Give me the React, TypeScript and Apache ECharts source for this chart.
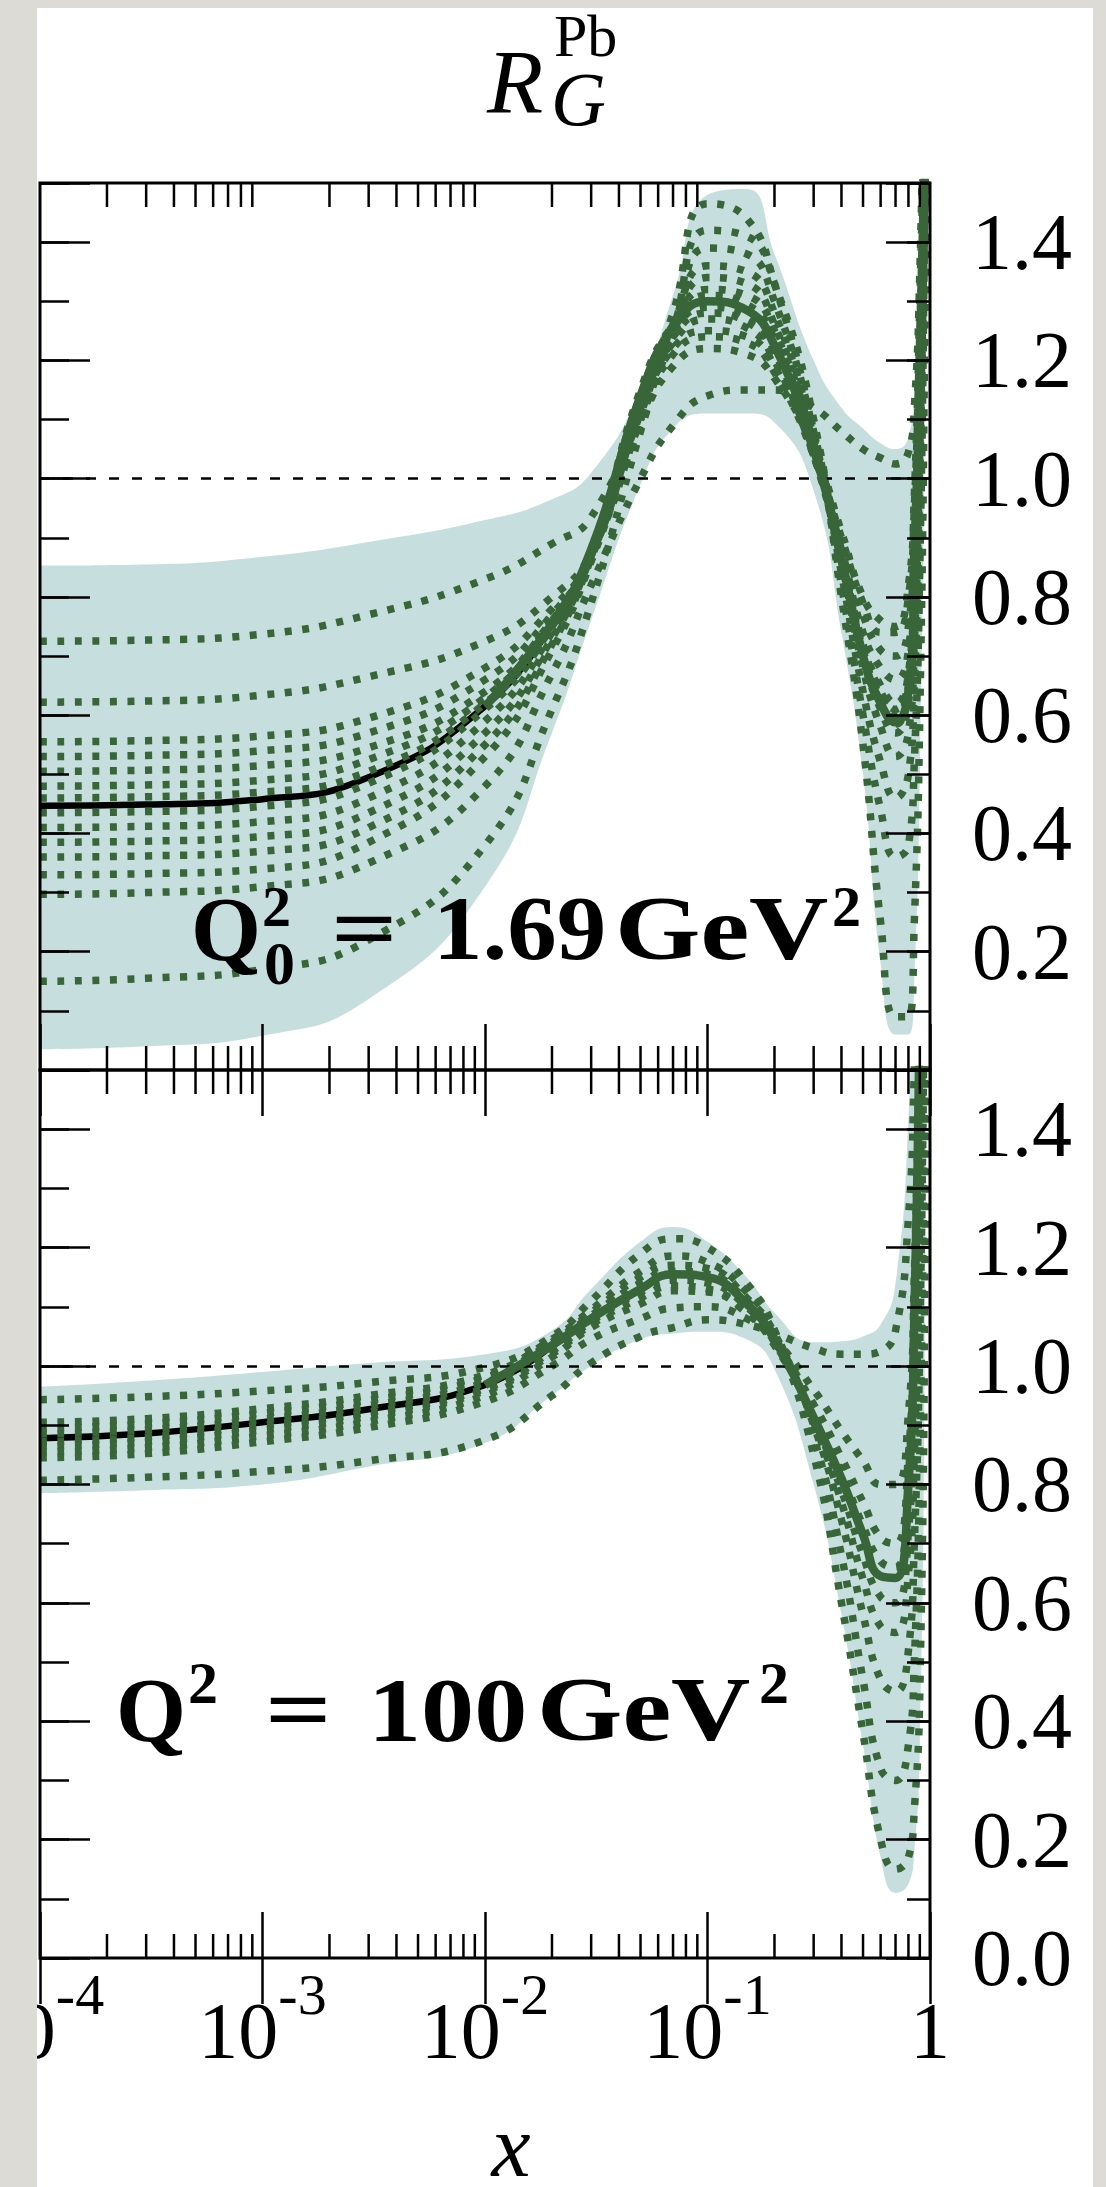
import React, { useEffect, useRef } from 'react';
import * as echarts from 'echarts';

// ---------------- data ----------------
const xGrid = [0.0001, 0.0003, 0.001, 0.003, 0.01, 0.02, 0.03, 0.05, 0.07, 0.1, 0.15, 0.2, 0.3, 0.4, 0.5, 0.6, 0.7, 0.8, 0.85, 0.9, 0.95, 1.0];

// Upper panel: Q0^2 = 1.69 GeV^2
const topCentral = [0.447, 0.449, 0.458, 0.495, 0.615, 0.755, 0.88, 1.14, 1.255, 1.30, 1.285, 1.225, 1.05, 0.865, 0.70, 0.62, 0.588, 0.64, 0.80, 1.12, 1.55, 2.3];
const topBandUpper = [0.853, 0.855, 0.868, 0.893, 0.93, 0.965, 1.01, 1.15, 1.31, 1.48, 1.49, 1.38, 1.20, 1.12, 1.085, 1.06, 1.05, 1.07, 1.15, 1.45, 2.0, 2.5];
const topBandLower = [0.035, 0.04, 0.058, 0.12, 0.31, 0.57, 0.76, 0.99, 1.085, 1.11, 1.11, 1.095, 0.98, 0.74, 0.50, 0.18, 0.06, 0.06, 0.15, 0.5, 1.2, 2.5];
const topErr01 = [0.725, 0.727, 0.737, 0.77, 0.83, 0.89, 0.935, 1.12, 1.28, 1.465, 1.44, 1.33, 1.08, 0.82, 0.60, 0.44, 0.36, 0.38, 0.52, 0.85, 1.5, 2.3];
const topErr02 = [0.622, 0.624, 0.634, 0.665, 0.725, 0.80, 0.875, 1.10, 1.25, 1.39, 1.38, 1.30, 1.08, 0.84, 0.64, 0.52, 0.46, 0.50, 0.65, 1.0, 1.55, 2.3];
const topErr03 = [0.555, 0.557, 0.565, 0.595, 0.68, 0.78, 0.87, 1.12, 1.26, 1.36, 1.35, 1.28, 1.07, 0.86, 0.68, 0.58, 0.53, 0.57, 0.72, 1.05, 1.55, 2.3];
const topErr04 = [0.53, 0.532, 0.54, 0.57, 0.66, 0.77, 0.87, 1.13, 1.26, 1.34, 1.33, 1.26, 1.06, 0.87, 0.70, 0.61, 0.57, 0.62, 0.78, 1.1, 1.55, 2.3];
const topErr05 = [0.505, 0.507, 0.515, 0.545, 0.64, 0.76, 0.87, 1.14, 1.26, 1.32, 1.31, 1.25, 1.06, 0.87, 0.72, 0.64, 0.61, 0.66, 0.82, 1.15, 1.6, 2.3];
const topErr06 = [0.48, 0.482, 0.49, 0.525, 0.63, 0.76, 0.88, 1.15, 1.26, 1.31, 1.295, 1.235, 1.05, 0.87, 0.71, 0.63, 0.60, 0.65, 0.81, 1.13, 1.55, 2.3];
const topErr07 = [0.46, 0.462, 0.47, 0.505, 0.62, 0.755, 0.88, 1.14, 1.25, 1.29, 1.275, 1.215, 1.04, 0.86, 0.70, 0.62, 0.585, 0.64, 0.80, 1.12, 1.55, 2.3];
const topErr08 = [0.435, 0.437, 0.446, 0.485, 0.61, 0.75, 0.88, 1.13, 1.24, 1.28, 1.265, 1.21, 1.04, 0.87, 0.72, 0.65, 0.62, 0.67, 0.83, 1.15, 1.6, 2.3];
const topErr09 = [0.41, 0.412, 0.42, 0.46, 0.59, 0.74, 0.875, 1.12, 1.23, 1.27, 1.255, 1.20, 1.04, 0.88, 0.74, 0.68, 0.66, 0.71, 0.87, 1.2, 1.6, 2.3];
const topErr10 = [0.385, 0.387, 0.395, 0.435, 0.57, 0.73, 0.87, 1.11, 1.22, 1.25, 1.24, 1.19, 1.04, 0.89, 0.77, 0.71, 0.70, 0.75, 0.90, 1.22, 1.6, 2.3];
const topErr11 = [0.36, 0.362, 0.37, 0.41, 0.55, 0.72, 0.865, 1.10, 1.21, 1.24, 1.23, 1.18, 1.04, 0.90, 0.79, 0.74, 0.74, 0.80, 0.95, 1.25, 1.65, 2.3];
const topErr12 = [0.33, 0.332, 0.34, 0.385, 0.53, 0.71, 0.86, 1.09, 1.19, 1.22, 1.21, 1.17, 1.05, 0.91, 0.80, 0.76, 0.75, 0.82, 0.97, 1.3, 1.7, 2.3];
const topErr13 = [0.297, 0.30, 0.31, 0.35, 0.48, 0.67, 0.82, 1.0, 1.09, 1.14, 1.15, 1.15, 1.12, 1.08, 1.05, 1.035, 1.025, 1.045, 1.12, 1.35, 1.8, 2.3];
const topErr14 = [0.15, 0.155, 0.17, 0.22, 0.38, 0.61, 0.79, 1.08, 1.25, 1.42, 1.41, 1.33, 1.10, 0.80, 0.55, 0.25, 0.09, 0.09, 0.25, 0.6, 1.3, 2.3];
const topErrorSets = [topErr01, topErr02, topErr03, topErr04, topErr05, topErr06, topErr07, topErr08, topErr09, topErr10, topErr11, topErr12, topErr13, topErr14];

// Lower panel: Q^2 = 100 GeV^2
const bottomCentral = [0.878, 0.886, 0.905, 0.927, 0.968, 1.035, 1.08, 1.13, 1.155, 1.15, 1.105, 1.045, 0.913, 0.81, 0.715, 0.645, 0.642, 0.80, 1.08, 1.6, 2.3, 3.0];
const bottomBandUpper = [0.965, 0.975, 0.99, 1.005, 1.02, 1.06, 1.13, 1.21, 1.235, 1.21, 1.15, 1.09, 1.04, 1.042, 1.05, 1.07, 1.14, 1.42, 1.8, 2.2, 2.6, 3.0];
const bottomBandLower = [0.785, 0.79, 0.80, 0.83, 0.87, 0.95, 1.0, 1.045, 1.055, 1.058, 1.045, 0.995, 0.80, 0.58, 0.36, 0.17, 0.11, 0.125, 0.18, 0.35, 1.1, 3.0];
const bottomErr01 = [0.943, 0.948, 0.958, 0.972, 0.998, 1.05, 1.11, 1.19, 1.215, 1.20, 1.14, 1.06, 0.85, 0.60, 0.38, 0.20, 0.15, 0.17, 0.25, 0.45, 1.2, 3.0];
const bottomErr02 = [0.807, 0.812, 0.822, 0.84, 0.875, 0.95, 1.005, 1.05, 1.065, 1.078, 1.07, 1.055, 1.03, 1.02, 1.02, 1.025, 1.06, 1.25, 1.5, 1.9, 2.5, 3.0];
const bottomErr03 = [0.905, 0.911, 0.928, 0.95, 0.985, 1.045, 1.095, 1.16, 1.186, 1.175, 1.125, 1.06, 0.88, 0.68, 0.47, 0.32, 0.30, 0.36, 0.50, 0.85, 1.6, 3.0];
const bottomErr04 = [0.895, 0.902, 0.92, 0.942, 0.98, 1.04, 1.09, 1.15, 1.17, 1.165, 1.115, 1.055, 0.90, 0.74, 0.58, 0.47, 0.45, 0.52, 0.70, 1.05, 1.8, 3.0];
const bottomErr05 = [0.885, 0.892, 0.91, 0.933, 0.972, 1.035, 1.085, 1.14, 1.16, 1.155, 1.11, 1.05, 0.905, 0.77, 0.64, 0.56, 0.55, 0.65, 0.85, 1.25, 2.0, 3.0];
const bottomErr06 = [0.872, 0.88, 0.90, 0.922, 0.962, 1.025, 1.075, 1.125, 1.145, 1.14, 1.10, 1.04, 0.91, 0.79, 0.68, 0.61, 0.60, 0.72, 0.95, 1.4, 2.1, 3.0];
const bottomErr07 = [0.865, 0.872, 0.892, 0.915, 0.958, 1.02, 1.07, 1.115, 1.135, 1.13, 1.09, 1.035, 0.92, 0.82, 0.73, 0.67, 0.66, 0.80, 1.05, 1.5, 2.2, 3.0];
const bottomErr08 = [0.855, 0.862, 0.882, 0.906, 0.95, 1.015, 1.065, 1.105, 1.127, 1.125, 1.09, 1.04, 0.935, 0.845, 0.77, 0.71, 0.70, 0.85, 1.1, 1.55, 2.3, 3.0];
const bottomErr09 = [0.845, 0.852, 0.872, 0.896, 0.94, 1.0, 1.045, 1.08, 1.098, 1.10, 1.08, 1.045, 0.96, 0.89, 0.84, 0.80, 0.80, 0.92, 1.15, 1.6, 2.4, 3.0];
const bottomErrorSets = [bottomErr01, bottomErr02, bottomErr03, bottomErr04, bottomErr05, bottomErr06, bottomErr07, bottomErr08, bottomErr09];

// axis ticks
const xMinorMantissas = [2, 3, 4, 5, 6, 7, 8, 9];
const xDecades = [0.0001, 0.001, 0.01, 0.1];
const yMin = 0;
const yMax = 1.5;
const yMajorStep = 0.2;
const yMinorStep = 0.1;

// ---------------- styling ----------------
const PAGE_GRAY = '#dddbd6';
const DOT_GREEN = '#386639';
const BAND_COLOR = '#c6dfde';
const SERIF = '"Liberation Serif", "Times New Roman", serif';
const TICK_STYLE = { color: '#000', width: 2.5 };

const minorXTicks: number[] = [];
xDecades.forEach((d) => xMinorMantissas.forEach((m) => minorXTicks.push(m * d)));

function pairs(ys: number[], from = 0, to = ys.length) {
  const out: number[][] = [];
  for (let i = from; i < to; i++) out.push([xGrid[i], ys[i]]);
  return out;
}

const renderMinorTicks = (params: any, api: any) => {
  const x = api.value(0);
  const b = api.coord([x, yMin]);
  const t = api.coord([x, yMax]);
  const st = { stroke: '#000', lineWidth: 2.5 };
  return {
    type: 'group',
    children: [
      { type: 'line', shape: { x1: b[0], y1: b[1], x2: b[0], y2: b[1] - 24 }, style: st },
      { type: 'line', shape: { x1: t[0], y1: t[1], x2: t[0], y2: t[1] + 24 }, style: st },
    ],
  };
};

function panelSeries(xi: number, yi: number, central: number[], upper: number[], lower: number[], errs: number[][]) {
  const common = {
    type: 'line', xAxisIndex: xi, yAxisIndex: yi, symbol: 'none', showSymbol: false,
    smooth: 0.5, silent: true, clip: true,
  };
  const s: any[] = [];
  s.push({
    ...common, data: pairs(upper), lineStyle: { opacity: 0 },
    areaStyle: { color: BAND_COLOR, opacity: 1, origin: 'start' }, z: 1,
    markLine: {
      silent: true, symbol: ['none', 'none'], label: { show: false },
      lineStyle: { type: [10, 13], color: '#000', width: 2.5 },
      data: [{ yAxis: 1 }],
    },
  });
  s.push({ ...common, data: pairs(lower), lineStyle: { opacity: 0 }, areaStyle: { color: '#ffffff', opacity: 1, origin: 'start' }, z: 2 });
  s.push({ ...common, data: pairs(central, 0, 6), lineStyle: { color: '#000', width: 6.5 }, z: 3 });
  errs.forEach((e) => s.push({
    ...common, data: pairs(e),
    lineStyle: { color: DOT_GREEN, width: 7.5, type: [7, 10.5], cap: 'butt' }, z: 4,
  }));
  s.push({ ...common, data: pairs(central, 4), lineStyle: { color: DOT_GREEN, width: 8.5 }, z: 5 });
  s.push({
    type: 'custom', xAxisIndex: xi, yAxisIndex: yi, data: minorXTicks.map((v) => [v, 0]),
    encode: { x: 0, y: 1 }, renderItem: renderMinorTicks, clip: false, silent: true, z: 20,
  });
  return s;
}

const xAxisBase = {
  type: 'log', logBase: 10, min: 0.0001, max: 1,
  axisLine: { show: false }, splitLine: { show: false },
  axisTick: { show: true, inside: true, length: 46, lineStyle: TICK_STYLE }, z: 20,
};

const xLabel = {
  show: true, margin: 7, showMinLabel: true, showMaxLabel: true,
  formatter: (v: number) => {
    const e = Math.round(Math.log10(v));
    return e === 0 ? '{b|1}' : `{b|10}{s|${e}}`;
  },
  rich: {
    b: { fontSize: 80, fontFamily: SERIF, color: '#000', lineHeight: 106, verticalAlign: 'bottom' },
    s: { fontSize: 58, fontFamily: SERIF, color: '#000', lineHeight: 60, verticalAlign: 'top' },
  },
};

function yAxes(grid: number, hideZero: boolean) {
  const base = { type: 'value', gridIndex: grid, min: yMin, max: yMax, axisLine: { show: false }, splitLine: { show: false }, z: 20 };
  return [
    { ...base, position: 'left', interval: yMajorStep, axisTick: { show: true, inside: true, length: 50, lineStyle: TICK_STYLE }, axisLabel: { show: false } },
    { ...base, position: 'left', interval: yMinorStep, axisTick: { show: true, inside: true, length: 29, lineStyle: TICK_STYLE }, axisLabel: { show: false } },
    {
      ...base, position: 'right', interval: yMajorStep,
      axisTick: { show: true, inside: true, length: 44, lineStyle: TICK_STYLE },
      axisLabel: {
        show: true, margin: 42, fontSize: 80, fontFamily: SERIF, color: '#000',
        showMinLabel: true, showMaxLabel: true, padding: [0, 0, 8, 0],
        formatter: (v: number) => {
          if (Math.abs(v - yMax) < 1e-6) return '';
          if (hideZero && Math.abs(v) < 1e-6) return '';
          return v.toFixed(1);
        },
      },
    },
    { ...base, position: 'right', interval: yMinorStep, axisTick: { show: true, inside: true, length: 23, lineStyle: TICK_STYLE }, axisLabel: { show: false } },
  ];
}

function txt(text: string, x: number, y: number, font: string, lineHeight: number, scaleX = 1, align = 'left') {
  return {
    type: 'text', x, y, scaleX, z: 30, silent: true,
    style: { text, font, fill: '#000', align, textAlign: align, verticalAlign: 'middle', textVerticalAlign: 'middle', lineHeight },
  };
}

const BOLD = (s: number) => `bold ${s}px ${SERIF}`;
const ITAL = (s: number) => `italic ${s}px ${SERIF}`;

const option: any = {
  animation: false,
  backgroundColor: 'transparent',
  grid: [
    { left: 3, top: 183, width: 890, height: 887, show: true, borderColor: '#000', borderWidth: 3, backgroundColor: 'transparent', containLabel: false, outerBoundsMode: 'none', z: 20 },
    { left: 3, top: 1070, width: 890, height: 888, show: true, borderColor: '#000', borderWidth: 3, backgroundColor: 'transparent', containLabel: false, outerBoundsMode: 'none', z: 20 },
  ],
  xAxis: [
    { ...xAxisBase, gridIndex: 0, position: 'bottom', axisLabel: { show: false } },
    { ...xAxisBase, gridIndex: 0, position: 'top', axisLabel: { show: false } },
    { ...xAxisBase, gridIndex: 1, position: 'bottom', axisLabel: xLabel },
    { ...xAxisBase, gridIndex: 1, position: 'top', axisLabel: { show: false } },
  ],
  yAxis: [...yAxes(0, true), ...yAxes(1, false)],
  series: [
    ...panelSeries(0, 0, topCentral, topBandUpper, topBandLower, topErrorSets),
    ...panelSeries(2, 4, bottomCentral, bottomBandUpper, bottomBandLower, bottomErrorSets),
  ],
  graphic: [
    // gray page strip above the white sheet
    { type: 'rect', x: 0, y: 0, shape: { x: 0, y: 0, width: 1056, height: 8 }, style: { fill: PAGE_GRAY }, z: 0, silent: true },
    // title R_G^Pb
    txt('R', 450, 82, ITAL(92), 64),
    txt('Pb', 517, 36, `60px ${SERIF}`, 44),
    txt('G', 514, 99, ITAL(76), 54),
    // upper panel label
    txt('Q', 154, 929, BOLD(90), 62),
    txt('2', 225, 906, BOLD(58), 40),
    txt('0', 227, 963, BOLD(62), 42),
    txt('=', 294, 929, BOLD(90), 40, 1.3),
    txt('1.69', 396, 929, BOLD(90), 62, 1.1),
    txt('GeV', 578, 929, BOLD(90), 62, 1.22),
    txt('2', 795, 906, BOLD(58), 40),
    // lower panel label
    txt('Q', 79, 1710, BOLD(90), 62),
    txt('2', 151, 1683, BOLD(60), 40),
    txt('=', 228, 1710, BOLD(90), 40, 1.3),
    txt('100', 331, 1710, BOLD(90), 62, 1.18),
    txt('GeV', 500, 1710, BOLD(90), 62, 1.22),
    txt('2', 722, 1683, BOLD(60), 40),
    // x axis title
    txt('x', 474, 2146, ITAL(88), 40, 1, 'center'),
  ],
};

export default function App() {
  const ref = useRef<HTMLDivElement>(null);
  useEffect(() => {
    document.body.style.margin = '0';
    const chart = echarts.init(ref.current as HTMLDivElement, null, { renderer: 'svg' });
    chart.setOption(option);
    return () => chart.dispose();
  }, []);
  return (
    <div style={{ position: 'relative', width: 1106, height: 2187, background: PAGE_GRAY, overflow: 'hidden' }}>
      <div ref={ref} style={{ position: 'absolute', left: 37, top: 0, width: 1056, height: 2187, background: '#ffffff' }} />
    </div>
  );
}
